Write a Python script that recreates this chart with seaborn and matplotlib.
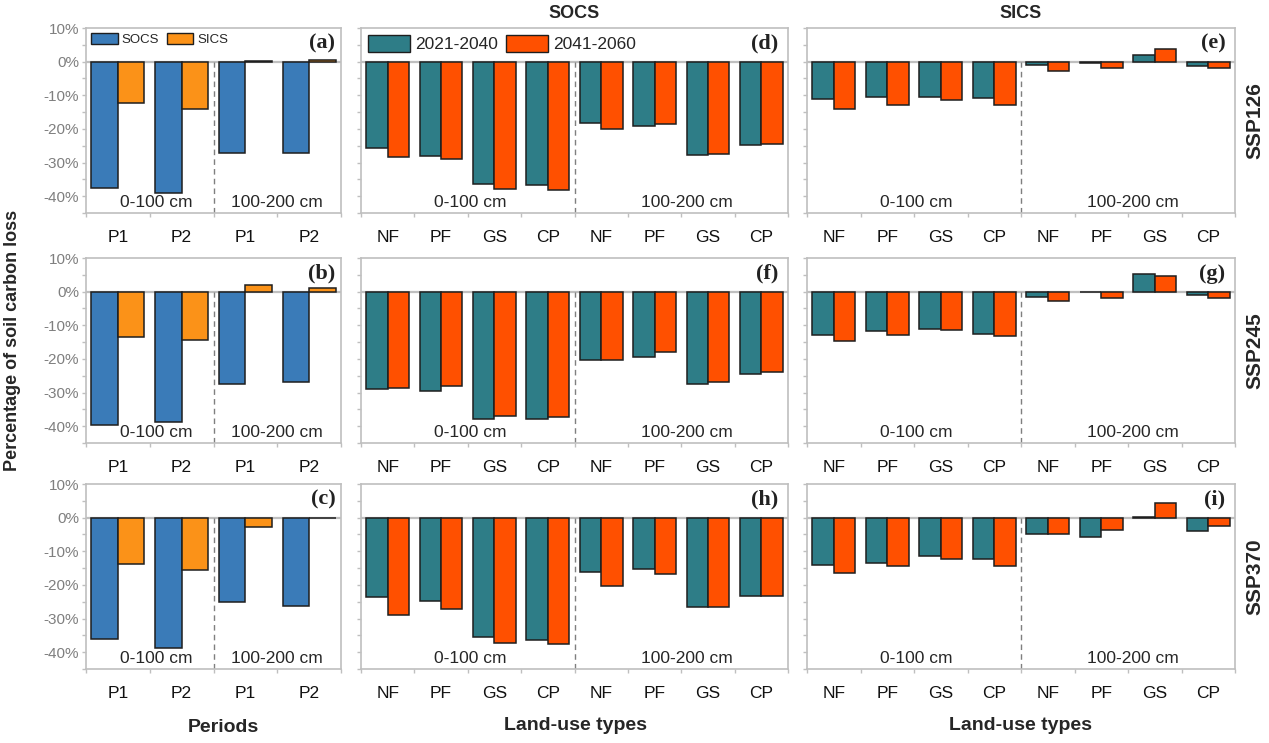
import matplotlib
matplotlib.use("Agg")
import matplotlib.pyplot as plt
import seaborn as sns
import pandas as pd
from matplotlib.patches import Patch
from matplotlib.ticker import MultipleLocator, FuncFormatter

# ---- data (percentage change) ----
scenarios = ["SSP126", "SSP245", "SSP370"]
periods = ["P1", "P2"]
land_uses = ["NF", "PF", "GS", "CP"]
layers = ["0-100 cm", "100-200 cm"]

# left column: P1, P2 (0-100 cm) then P1, P2 (100-200 cm)
socs_ssp126 = [-37.5, -39.2, -27.1, -27.3]
sics_ssp126 = [-12.2, -14.2, 0.1, 0.5]
socs_ssp245 = [-39.5, -38.8, -27.5, -26.8]
sics_ssp245 = [-13.4, -14.4, 1.9, 1.2]
socs_ssp370 = [-36.1, -38.8, -25.2, -26.4]
sics_ssp370 = [-13.9, -15.5, -2.8, 0.0]

# middle column (SOCS): NF, PF, GS, CP (0-100 cm) then NF, PF, GS, CP (100-200 cm)
socs_2140_ssp126 = [-25.6, -28.1, -36.5, -36.6, -18.3, -19.1, -27.8, -24.9]
socs_4160_ssp126 = [-28.3, -28.8, -37.9, -38.1, -19.9, -18.5, -27.6, -24.4]
socs_2140_ssp245 = [-29.0, -29.5, -37.8, -37.8, -20.4, -19.3, -27.6, -24.5]
socs_4160_ssp245 = [-28.6, -28.1, -37.0, -37.4, -20.3, -18.0, -26.9, -23.9]
socs_2140_ssp370 = [-23.6, -24.9, -35.5, -36.3, -16.2, -15.4, -26.5, -23.2]
socs_4160_ssp370 = [-28.8, -27.3, -37.2, -37.5, -20.2, -16.9, -26.6, -23.4]

# right column (SICS)
sics_2140_ssp126 = [-11.1, -10.4, -10.4, -10.8, -1.1, -0.4, 1.9, -1.4]
sics_4160_ssp126 = [-14.1, -12.8, -11.5, -12.9, -2.7, -1.9, 3.7, -1.9]
sics_2140_ssp245 = [-13.0, -11.8, -11.0, -12.5, -1.6, -0.1, 5.1, -1.0]
sics_4160_ssp245 = [-14.7, -13.0, -11.5, -13.2, -2.9, -1.8, 4.7, -1.8]
sics_2140_ssp370 = [-14.1, -13.4, -11.4, -12.3, -5.0, -5.7, 0.1, -3.9]
sics_4160_ssp370 = [-16.4, -14.4, -12.2, -14.3, -5.0, -3.7, 4.4, -2.4]

left_series = ["SOCS", "SICS"]
right_series = ["2021-2040", "2041-2060"]
left_colors = ["#3a7bb8", "#fb9218"]
right_colors = ["#2e7d87", "#ff5000"]

sns.set_theme(style="white")
plt.rcParams["font.family"] = ["Liberation Sans", "DejaVu Sans"]

GRID = "#bfbfbf"


def draw_panel(ax, labels, vals_a, vals_b, names, colors, width, ylabels):
    n = len(vals_a)
    half = n // 2
    cats = [f"{lab}|{layers[i // half]}" for i, lab in enumerate(labels)]
    df = pd.DataFrame({
        "cat": cats * 2,
        "val": list(vals_a) + list(vals_b),
        "series": [names[0]] * n + [names[1]] * n,
    })
    sns.barplot(data=df, x="cat", y="val", hue="series", order=cats,
                hue_order=names, palette=colors, width=width, saturation=1,
                edgecolor="#1e1e1e", linewidth=1.1, errorbar=None,
                legend=False, ax=ax)
    ax.set_xlim(-0.5, n - 0.5)
    ax.set_ylim(-45, 10)
    ax.set_xlabel("")
    ax.set_ylabel("")
    ax.axhline(0, color=GRID, lw=1.6, zorder=0.5)
    ax.vlines(half - 0.5, -45, 0, colors="#7f7f7f", linestyles=(0, (4, 3)), lw=1.0)
    for s in ax.spines.values():
        s.set_color(GRID)
        s.set_linewidth(1.2)
    ax.yaxis.set_major_locator(MultipleLocator(10))
    ax.yaxis.set_minor_locator(MultipleLocator(5))
    ax.yaxis.set_major_formatter(FuncFormatter(lambda v, p: f"{v:.0f}%"))
    ax.tick_params(axis="y", which="both", left=True, direction="out",
                   length=3, width=1, color=GRID, labelsize=11,
                   labelcolor="#7f7f7f", labelleft=ylabels, pad=2)
    ax.set_xticks(range(n))
    ax.set_xticklabels(labels, fontsize=12.5, color="#111111")
    ax.set_xticks([i - 0.5 for i in range(n + 1)], minor=True)
    ax.tick_params(axis="x", which="major", bottom=False, pad=6)
    ax.tick_params(axis="x", which="minor", bottom=True, direction="out",
                   length=3, width=1, color=GRID)
    return ax


fig = plt.figure(figsize=(12.69, 7.43), dpi=100)

row_bottoms = [1 - 213 / 743, 1 - 443 / 743, 1 - 669 / 743]
row_h = 185 / 743
col_x = [86 / 1269, 361 / 1269, 807 / 1269]
col_w = [255 / 1269, 427 / 1269, 428 / 1269]

left_data = [(socs_ssp126, sics_ssp126), (socs_ssp245, sics_ssp245), (socs_ssp370, sics_ssp370)]
mid_data = [(socs_2140_ssp126, socs_4160_ssp126), (socs_2140_ssp245, socs_4160_ssp245),
            (socs_2140_ssp370, socs_4160_ssp370)]
right_data = [(sics_2140_ssp126, sics_4160_ssp126), (sics_2140_ssp245, sics_4160_ssp245),
              (sics_2140_ssp370, sics_4160_ssp370)]
tags = [["(a)", "(d)", "(e)"], ["(b)", "(f)", "(g)"], ["(c)", "(h)", "(i)"]]

for r in range(3):
    axl = fig.add_axes([col_x[0], row_bottoms[r], col_w[0], row_h])
    draw_panel(axl, periods * 2, *left_data[r], left_series, left_colors, 0.83, True)
    axl.text(0.6, -41.8, layers[0], ha="center", va="center", fontsize=12.5)
    axl.text(2.5, -41.8, layers[1], ha="center", va="center", fontsize=12.5)

    axm = fig.add_axes([col_x[1], row_bottoms[r], col_w[1], row_h])
    draw_panel(axm, land_uses * 2, *mid_data[r], right_series, right_colors, 0.8, False)

    axr = fig.add_axes([col_x[2], row_bottoms[r], col_w[2], row_h])
    draw_panel(axr, land_uses * 2, *right_data[r], right_series, right_colors, 0.8, False)

    for ax in (axm, axr):
        ax.text(1.55, -41.8, layers[0], ha="center", va="center", fontsize=12.5)
        ax.text(5.6, -41.8, layers[1], ha="center", va="center", fontsize=12.5)

    for ax, tag in zip((axl, axm, axr), tags[r]):
        ax.text(0.978, 0.915, tag, transform=ax.transAxes, ha="right", va="center",
                fontsize=16, fontweight="bold", family="Liberation Serif", color="#222222")

    fig.text(0.989, row_bottoms[r] + row_h / 2, scenarios[r], rotation=90,
             ha="center", va="center", fontsize=15, fontweight="bold")

    if r == 0:
        h_l = [Patch(facecolor=c, edgecolor="#1e1e1e", lw=1) for c in left_colors]
        axl.legend(h_l, left_series, loc="upper left", frameon=False, fontsize=9.5,
                   handlelength=2.0, handleheight=0.9, handletextpad=0.3,
                   columnspacing=0.6, ncol=2, borderaxespad=0.2, borderpad=0.2)
        h_r = [Patch(facecolor=c, edgecolor="#1e1e1e", lw=1) for c in right_colors]
        axm.legend(h_r, right_series, loc="upper left", frameon=False, fontsize=12.5,
                   handlelength=2.4, handleheight=1.1, handletextpad=0.3,
                   columnspacing=0.5, ncol=2, borderaxespad=0.2, borderpad=0.2)

fig.text(574 / 1269, 1 - 13 / 743, "SOCS", ha="center", va="center", fontsize=13, fontweight="bold")
fig.text(1021 / 1269, 1 - 13 / 743, "SICS", ha="center", va="center", fontsize=13, fontweight="bold")
fig.text(0.0095, 1 - 340 / 743, "Percentage of soil carbon loss", rotation=90,
         ha="center", va="center", fontsize=13, fontweight="bold")
fig.text(223 / 1269, 1 - 728 / 743, "Periods", ha="center", va="center", fontsize=14, fontweight="bold")
fig.text(575 / 1269, 1 - 725 / 743, "Land-use types", ha="center", va="center", fontsize=14, fontweight="bold")
fig.text(1020 / 1269, 1 - 725 / 743, "Land-use types", ha="center", va="center", fontsize=14, fontweight="bold")

fig.savefig("out.png", dpi=100)
